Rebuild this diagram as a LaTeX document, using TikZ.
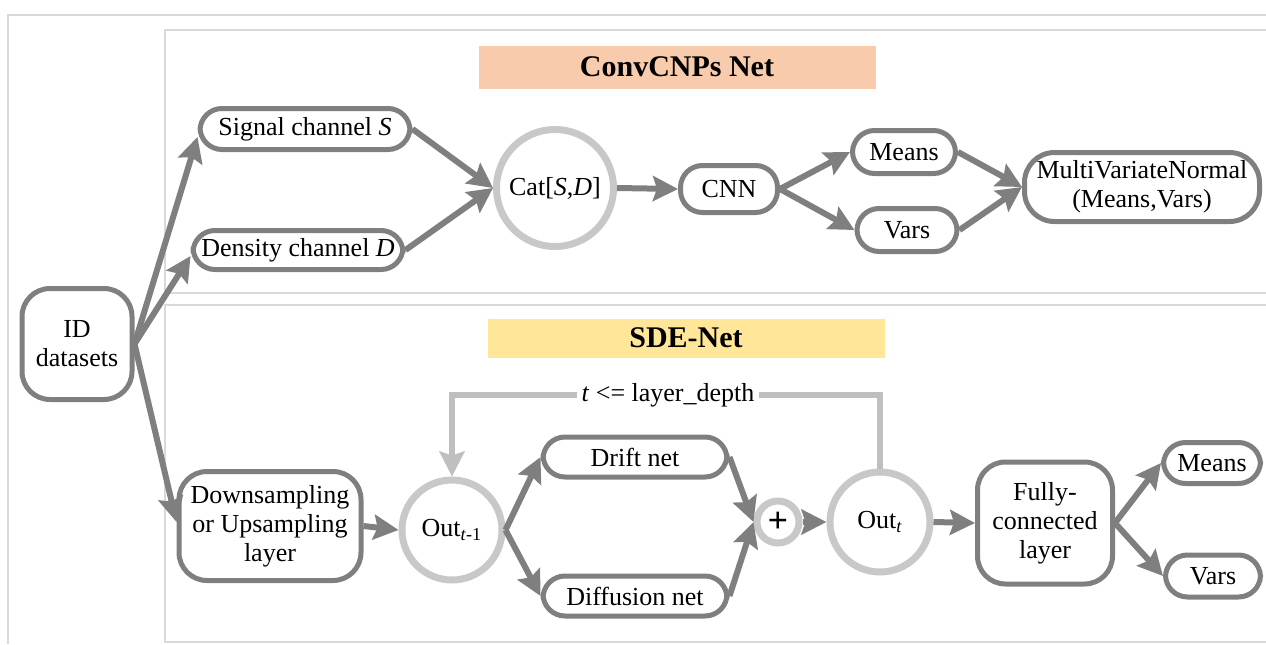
\documentclass[tikz,border=0pt]{standalone}
\usepackage{fontspec}
\setmainfont{Liberation Serif}
\usetikzlibrary{arrows.meta}
\definecolor{darkline}{HTML}{7F7F7F}
\definecolor{lightring}{HTML}{C8C8C8}
\definecolor{loopgray}{HTML}{BFBFBF}
\definecolor{framegray}{HTML}{D9D9D9}
\definecolor{peach}{HTML}{F8CBAD}
\definecolor{sand}{HTML}{FFE699}
\tikzstyle{block}=[draw=darkline,line width=2.5pt,fill=white,rounded corners=11pt,align=center,inner sep=1pt,font=\fontsize{13}{14.5}\selectfont]
\tikzstyle{ring}=[draw=lightring,line width=3.5pt,fill=white,circle,inner sep=0pt,font=\fontsize{13}{14.5}\selectfont]
\tikzstyle{title}=[font=\fontsize{15}{18}\selectfont\bfseries,minimum width=198.5pt]
\tikzstyle{arr}=[draw=darkline,line width=3pt,-{Stealth[length=12.5pt,width=12.5pt,inset=2pt]}]
\tikzstyle{panel}=[draw=framegray,line width=0.8pt]

\begin{document}
\begin{tikzpicture}[x=0.5pt,y=-0.5pt]
    \useasboundingbox (0,0) rectangle (1266,644);
    \draw[panel] (8,644) -- (8,15) -- (1266,15);
    \draw[panel] (1266,30) -- (165,30) -- (165,293) -- (1266,293);
    \draw[panel] (1266,305) -- (165,305) -- (165,642) -- (1266,642);
    \node (t1)[title,fill=peach,minimum height=21.5pt] at (677,67) {ConvCNPs Net};
    \node (t2)[title,fill=sand,minimum height=19.5pt] at (686,338) {SDE-Net};
    \node (id)[block,rounded corners=14pt,minimum width=55pt,minimum height=55.5pt] at (77,344) {ID\\datasets};
    \node (sig)[block,minimum width=105pt,minimum height=20.5pt] at (305,129) {Signal channel \textit{S}};
    \node (den)[block,minimum width=105pt,minimum height=19.5pt] at (298,250) {Density channel \textit{D}};
    \node (cat)[ring,minimum size=58.5pt] at (555,188) {Cat[\textit{S},\textit{D}]};
    \node (cnn)[block,minimum width=48.5pt,minimum height=23.5pt] at (729,189) {CNN};
    \node (mu1)[block,minimum width=51.5pt,minimum height=21.5pt] at (904,152) {Means};
    \node (var1)[block,minimum width=50pt,minimum height=21.5pt] at (907,230) {Vars};
    \node (mvn)[block,rounded corners=15pt,minimum width=117.5pt,minimum height=34.5pt] at (1142,187) {MultiVariateNormal\\(Means,Vars)};
    \node (ds)[block,rounded corners=14pt,minimum width=91pt,minimum height=54.5pt] at (270,526) {Downsampling\\or Upsampling\\layer};
    \node (outp)[ring,minimum size=50pt] at (452,530) {Out\textsubscript{\textit{t}-1}};
    \node (drift)[block,minimum width=92pt,minimum height=20pt] at (635,457) {Drift net};
    \node (diff)[block,minimum width=92pt,minimum height=20pt] at (635,596) {Diffusion net};
    \node (plus)[ring,minimum size=21pt,font=\fontsize{18}{18}\selectfont\bfseries] at (778,522) {+};
    \node (outt)[ring,minimum size=50pt] at (880,522) {Out\textsubscript{\textit{t}}};
    \node (fc)[block,rounded corners=14pt,minimum width=67.5pt,minimum height=61pt] at (1045,523) {Fully-\\connected\\layer};
    \node (mu2)[block,minimum width=48.5pt,minimum height=20.5pt] at (1212,463) {Means};
    \node (var2)[block,minimum width=47.5pt,minimum height=21pt] at (1213,576) {Vars};
    \node (cond)[inner sep=2pt,font=\fontsize{13}{14.5}\selectfont] at (668,395) {\textit{t} <= layer\_depth};
    % ID datasets fan out
    \path (id.east) edge[arr] ([yshift=-4pt]sig.west);
    \path (id.east) edge[arr] ([yshift=-3pt]den.west);
    \path (id.east) edge[arr] ([yshift=2pt]ds.west);
    % ConvCNPs branch
    \path (sig.east) edge[arr] (cat.west);
    \path (den.east) edge[arr] (cat.west);
    \path (cat.east) edge[arr] (cnn.west);
    \path (cnn.east) edge[arr] (mu1.west);
    \path (cnn.east) edge[arr] (var1.west);
    \path (mu1.east) edge[arr] (mvn.west);
    \path (var1.east) edge[arr] (mvn.west);
    % SDE branch
    \path (ds.east) edge[arr] (outp.west);
    \path (outp.east) edge[arr] (drift.west);
    \path (outp.east) edge[arr] (diff.west);
    \path (drift.east) edge[arr] (plus.west);
    \path (diff.east) edge[arr] (plus.west);
    \path (plus.east) edge[arr] (outt.west);
    \path (outt.east) edge[arr] (fc.west);
    \path (fc.east) edge[arr] (mu2.west);
    \path (fc.east) edge[arr] (var2.west);
    % loop back
    \draw[loopgray,line width=3pt] (outt.north) |- (cond.east);
    \draw[loopgray,line width=3pt,-{Stealth[length=12.5pt,width=12.5pt,inset=2pt]}] (cond.west) -| (outp.north);
\end{tikzpicture}
\end{document}
